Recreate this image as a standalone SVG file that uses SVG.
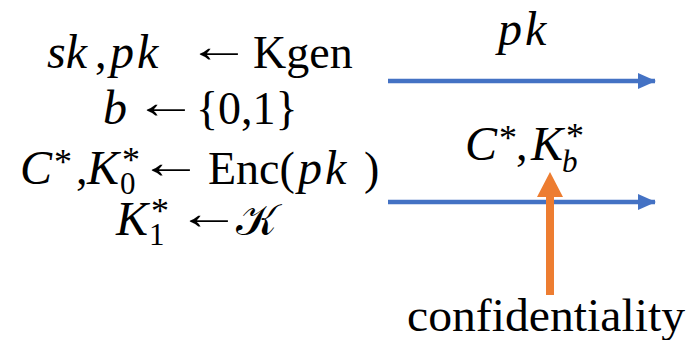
<svg xmlns="http://www.w3.org/2000/svg" width="689" height="340" viewBox="0 0 689 340">
<style>
text{font-family:"Liberation Serif","DejaVu Serif",serif;font-size:46px;fill:#000}
.i{font-style:italic;font-size:48px}
.w{letter-spacing:3px}
.s{font-size:31px}
.st{font-size:36px}
.arr{font-weight:bold}
.blue{stroke:#4472C4;stroke-width:4.5;fill:none}
</style>
<defs>
<marker id="ab" viewBox="0 0 18 16" refX="17" refY="8" markerWidth="18" markerHeight="16" markerUnits="userSpaceOnUse" orient="auto">
<path d="M0,0 L18,8 L0,16 Z" fill="#4472C4"/>
</marker>
</defs>
<g id="game">
<text x="47" y="68" class="i">sk</text>
<text x="95" y="68">,</text>
<text x="110" y="68" class="i w">pk</text>
<text class="arr" transform="translate(187 62) scale(1.4 1)">←</text>
<text x="253" y="68">Kgen</text>
<text x="103" y="124" class="i">b</text>
<text class="arr" transform="translate(134 118) scale(1.4 1)">←</text>
<text x="196" y="124">{0,1}</text>
<text x="20" y="184" class="i">C</text>
<text x="54" y="174" class="st">*</text>
<text x="76" y="184">,</text>
<text x="87" y="184" class="i">K</text>
<text x="122" y="172" class="st">*</text>
<text x="120" y="194" class="s">0</text>
<text class="arr" transform="translate(139 178) scale(1.4 1)">←</text>
<text x="208" y="184">Enc(</text>
<text x="298" y="184" class="i w">pk</text>
<text x="364" y="184">)</text>
<text x="116" y="235" class="i">K</text>
<text x="151" y="223" class="st">*</text>
<text x="149" y="245" class="s">1</text>
<text class="arr" transform="translate(177 229) scale(1.4 1)">←</text>
<text x="236" y="235" style="font-family:'DejaVu Serif','DejaVu Sans',serif;font-size:44px">𝒦</text>
</g>
<g id="connectors">
<line class="blue" x1="388" y1="81" x2="655" y2="81" marker-end="url(#ab)"/>
<line class="blue" x1="388" y1="202" x2="655" y2="202" marker-end="url(#ab)"/>
<path d="M546,295 L554,295 L554,197 L563,197 L550,172 L537,197 L546,197 Z" fill="#ED7D31"/>
</g>
<g id="labels">
<text x="498" y="45" class="i w">pk</text>
<text x="465" y="160" class="i">C</text>
<text x="499" y="150" class="st">*</text>
<text x="516" y="160">,</text>
<text x="531" y="160" class="i">K</text>
<text x="566" y="148" class="st">*</text>
<text x="562" y="172" class="s i" style="font-size:31px">b</text>
<text x="407" y="331" textLength="278" lengthAdjust="spacingAndGlyphs">confidentiality</text>
</g>
</svg>
